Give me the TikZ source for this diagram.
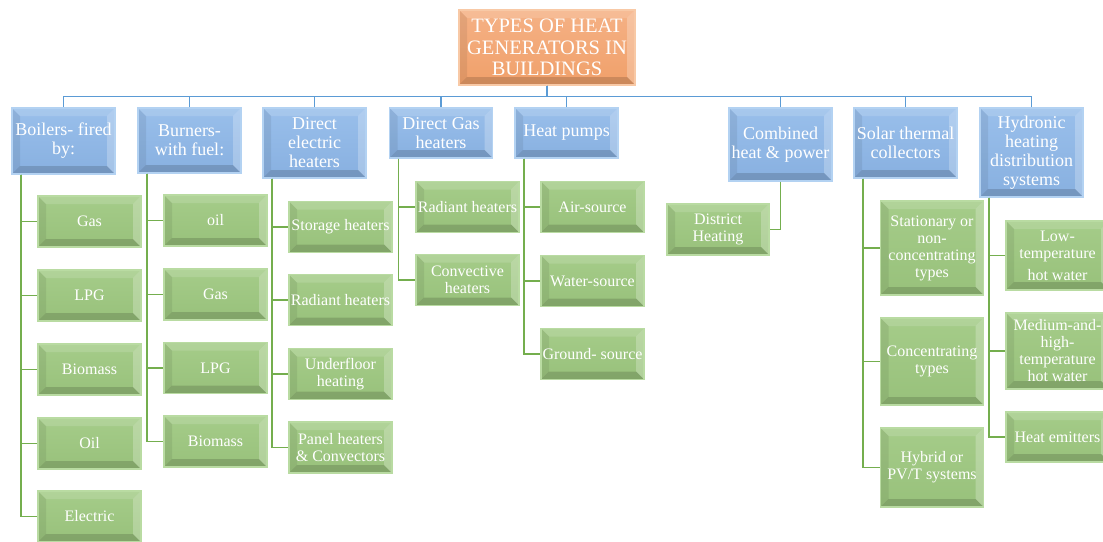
\documentclass[tikz,border=0pt]{standalone}
\usepackage{fontspec}
\setmainfont{Liberation Serif}
\usetikzlibrary{calc}

\definecolor{orgface}{HTML}{F0A06A}
\definecolor{orgtop}{HTML}{F5B185}
\definecolor{orgedge}{HTML}{F8C9A6}
\definecolor{bluface}{HTML}{88B0E0}
\definecolor{blutop}{HTML}{99BFEB}
\definecolor{bluedge}{HTML}{B3D2F2}
\definecolor{grnface}{HTML}{98C17B}
\definecolor{grntop}{HTML}{A5CC89}
\definecolor{grnedge}{HTML}{B9DBA2}
\definecolor{busblue}{HTML}{5B9BD5}
\definecolor{twiggreen}{HTML}{74AE4E}

\tikzset{
  % raised look: rims along the four sides of each box
  bevel/.style={path picture={
    \coordinate (bSW) at (path picture bounding box.south west);
    \coordinate (bSE) at (path picture bounding box.south east);
    \coordinate (bNW) at (path picture bounding box.north west);
    \coordinate (bNE) at (path picture bounding box.north east);
    \coordinate (iSW) at ([shift={(8pt,8pt)}]bSW);
    \coordinate (iSE) at ([shift={(-8pt,8pt)}]bSE);
    \coordinate (iNW) at ([shift={(8pt,-8pt)}]bNW);
    \coordinate (iNE) at ([shift={(-8pt,-8pt)}]bNE);
    \fill[white,opacity=0.14] (bNW) -- (bNE) -- (iNE) -- (iNW) -- cycle;
    \fill[white,opacity=0.24] (bNE) -- (bSE) -- (iSE) -- (iNE) -- cycle;
    \fill[black,opacity=0.07] (bNW) -- (bSW) -- (iSW) -- (iNW) -- cycle;
    \fill[black,opacity=0.15] (bSW) -- (bSE) -- (iSE) -- (iSW) -- cycle;
  }},
  boxbase/.style={bevel, text=white, align=center, inner sep=0pt, line width=1.1pt},
  rootbox/.style={boxbase, draw=orgedge, top color=orgtop, bottom color=orgface,
    minimum width=176pt, minimum height=75pt,
    font=\fontsize{20.5}{21.5}\selectfont},
  catbox/.style={boxbase, draw=bluedge, top color=blutop, bottom color=bluface,
    minimum width=103pt, minimum height=#1,
    font=\fontsize{18}{19}\selectfont},
  leafbox/.style={boxbase, draw=grnedge, top color=grntop, bottom color=grnface,
    minimum width=103pt, minimum height=#1,
    font=\fontsize{16}{17}\selectfont},
  leafbox/.default=51pt,
  bus/.style={draw=busblue, line width=1.3pt},
  twig/.style={draw=twiggreen, line width=1.6pt},
}

\begin{document}
\begin{tikzpicture}[x=1pt,y=-1pt]
\useasboundingbox (0,0) rectangle (1103,541);

% root
\node[rootbox] (root) at (547,47.5) {TYPES OF HEAT\\GENERATORS IN\\BUILDINGS};

% categories
\node[catbox=66pt] (boil) at (63.5,141)   {Boilers- fired\\by:};
\node[catbox=65pt] (burn) at (189.5,140.5) {Burners-\\with fuel:};
\node[catbox=70pt] (dele) at (314.5,143)  {Direct\\electric\\heaters};
\node[catbox=50pt] (dgas) at (441,133)    {Direct Gas\\heaters};
\node[catbox=50pt] (hp)   at (566.5,133)  {Heat pumps};
\node[catbox=73pt] (chp)  at (780.5,144.5) {Combined\\heat \& power};
\node[catbox=70pt] (sol)  at (905.5,143)  {Solar thermal\\collectors};
\node[catbox=89pt] (hyd)  at (1031.5,152.5) {Hydronic\\heating\\distribution\\systems};

% boilers
\node[leafbox] (b1) at (89.5,221.5) {Gas};
\node[leafbox] (b2) at (89.5,295.5) {LPG};
\node[leafbox] (b3) at (89.5,369.5) {Biomass};
\node[leafbox] (b4) at (89.5,443.5) {Oil};
\node[leafbox] (b5) at (89.5,516.5) {Electric};

% burners
\node[leafbox] (u1) at (215.5,220.5) {oil};
\node[leafbox] (u2) at (215.5,294.5) {Gas};
\node[leafbox] (u3) at (215.5,368)   {LPG};
\node[leafbox] (u4) at (215.5,441.5) {Biomass};

% direct electric
\node[leafbox] (e1) at (340.5,227)   {Storage heaters};
\node[leafbox] (e2) at (340.5,300)   {Radiant heaters};
\node[leafbox] (e3) at (340.5,374)   {Underfloor\\heating};
\node[leafbox] (e4) at (340.5,447.5) {Panel heaters\\\& Convectors};

% direct gas
\node[leafbox] (g1) at (467.5,207) {Radiant heaters};
\node[leafbox] (g2) at (467.5,280) {Convective\\heaters};

% heat pumps
\node[leafbox] (p1) at (592.5,207) {Air-source};
\node[leafbox] (p2) at (592.5,281) {Water-source};
\node[leafbox] (p3) at (592.5,354) {Ground- source};

% combined heat and power
\node[leafbox, minimum width=102pt] (c1) at (718,229.5) {District\\Heating};

% solar thermal
\node[leafbox=94pt] (s1) at (932,248)   {Stationary or\\non-\\concentrating\\types};
\node[leafbox=87pt] (s2) at (932,361.5) {Concentrating\\types};
\node[leafbox=79pt] (s3) at (932,467.5) {Hybrid or\\PV/T systems};

% hydronic
\node[leafbox=69pt] (h1) at (1057.5,255.5) {Low-\\temperature\\[5pt]hot water};
\node[leafbox=76pt] (h2) at (1057.5,351)   {Medium-and-\\high-\\temperature\\hot water};
\node[leafbox=50pt] (h3) at (1057.5,437)   {Heat emitters};

% top-level bus
\coordinate (busy) at ($(root.south)+(0,11)$);
\foreach \c in {boil,burn,dele,dgas,hp,chp,sol,hyd}
  \draw[bus] (root.south) -- (busy) -| (\c.north);

% branches
\foreach \p/\kids in {boil/{b1,b2,b3,b4,b5}, burn/{u1,u2,u3,u4},
                      dele/{e1,e2,e3,e4}, dgas/{g1,g2}, hp/{p1,p2,p3},
                      sol/{s1,s2,s3}, hyd/{h1,h2,h3}}
  \foreach \k in \kids
    \draw[twig] ($(\p.south west)+(9.5,0)$) |- (\k.west);
\draw[twig] (chp.south) |- (c1.east);
\end{tikzpicture}
\end{document}
